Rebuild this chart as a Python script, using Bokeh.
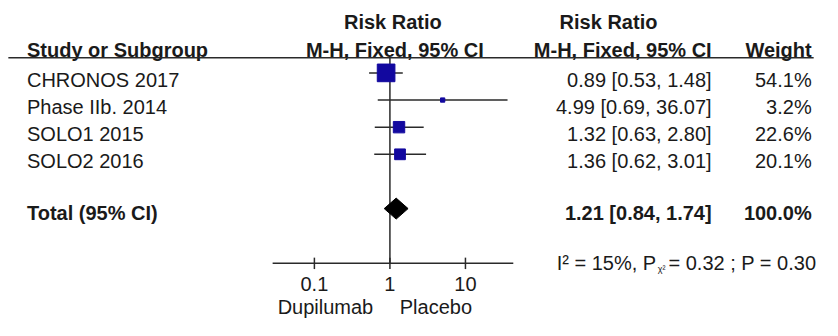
import math
from bokeh.plotting import figure
from bokeh.models import Range1d, LogScale, ColumnDataSource
from bokeh.embed import file_html
from bokeh.resources import INLINE
from bokeh.core.properties import value

# ---------------- data ----------------
studies = ["CHRONOS 2017", "Phase IIb. 2014", "SOLO1 2015", "SOLO2 2016"]
rr = [0.89, 4.99, 1.32, 1.36]
ci_lo = [0.53, 0.69, 0.63, 0.62]
ci_hi = [1.48, 36.07, 2.80, 3.01]
weights = [54.1, 3.2, 22.6, 20.1]

total_label = "Total (95% CI)"
total_rr = 1.21
total_lo = 0.84
total_hi = 1.74
total_weight = 100.0

i2_text = "I² = 15%, P"
chi_sub = "χ²"
p_text = "= 0.32 ; P = 0.30"

null_value = 1.0
tick_values = [0.1, 1, 10]
tick_labels = ["0.1", "1", "10"]
axis_limits = [0.028, 43.0]
favours_left = "Dupilumab"
favours_right = "Placebo"

header_group = "Risk Ratio"
header_method = "M-H, Fixed, 95% CI"
header_study = "Study or Subgroup"
header_weight = "Weight"

# ---------------- layout (coordinates in reference-picture pixels) ----------------
W, H = 822, 320
REF_W, REF_H = 838, 336
FONT = value("Liberation Sans")
FS = "20px"
TXT = "#1a1a1a"
LINE = "#2a2a2a"
BLUE = "#12089f"

X_NULL = 397.0      # x of RR = 1
PX_DEC = 77.0       # pixels per decade
row_y = [76 + 28.5 * i for i in range(len(studies))]
total_y = 76 + 28.5 * 5
axis_y = 276
hdr1_y, hdr2_y, hdr_line_y = 23, 52, 60
TXT_OFF = 7

p = figure(width=W, height=H, output_backend="svg", toolbar_location=None,
           x_range=Range1d(0, REF_W), y_range=Range1d(REF_H, 0),
           min_border=0, outline_line_color=None,
           x_axis_location=None, y_axis_location=None)
p.grid.visible = False
p.background_fill_color = "white"
p.border_fill_color = "white"

lo_log = (0 - X_NULL) / PX_DEC
hi_log = (REF_W - X_NULL) / PX_DEC
p.extra_x_ranges = {"rr": Range1d(10 ** lo_log, 10 ** hi_log)}
p.extra_x_scales = {"rr": LogScale()}

def txt(x, y, t, align="left", bold=False, size=FS, range_name="default"):
    p.text(x=[x] if not isinstance(x, list) else x,
           y=[y] if not isinstance(y, list) else y,
           text=[t] if not isinstance(t, list) else t,
           text_font=FONT, text_font_size=size,
           text_font_style="bold" if bold else "normal",
           text_align=align, text_baseline="middle", text_color=TXT,
           x_range_name=range_name)

# headers
txt(400, hdr1_y, header_group, "center", True)
txt(402, hdr2_y, header_method, "center", True)
txt(570, hdr1_y, header_group, "left", True)
txt(725, hdr2_y, header_method, "right", True)
txt(27, hdr2_y, header_study, "left", True)
txt(827, hdr2_y, header_weight, "right", True)
p.segment(x0=[8], y0=[hdr_line_y], x1=[829], y1=[hdr_line_y], line_color=LINE, line_width=1.5)

# study rows
ci_text = [f"{r:.2f} [{l:.2f}, {h:.2f}]" for r, l, h in zip(rr, ci_lo, ci_hi)]
w_text = [f"{w:.1f}%" for w in weights]
ty = [y + TXT_OFF for y in row_y]
txt([27] * len(studies), ty, studies, "left")
txt([725] * len(studies), ty, ci_text, "right")
txt([827] * len(studies), ty, w_text, "right")

# total row
txt(27, total_y + 5, total_label, "left", True)
txt(725, total_y + 5, f"{total_rr:.2f} [{total_lo:.2f}, {total_hi:.2f}]", "right", True)
txt(827, total_y + 5, f"{total_weight:.1f}%", "right", True)

# heterogeneity line
txt(567, axis_y, i2_text, "left")
txt(670, axis_y + 6, chi_sub, "left", size="9px")
txt(681, axis_y, p_text, "left")

# null line
p.segment(x0=[null_value], y0=[hdr_line_y], x1=[null_value], y1=[axis_y],
          x_range_name="rr", line_color=LINE, line_width=1.5)

# CIs and boxes
src = ColumnDataSource(dict(lo=ci_lo, hi=ci_hi, rr=rr, y=row_y,
                            size=[2.4 * math.sqrt(w) for w in weights]))
p.segment(x0="lo", y0="y", x1="hi", y1="y", source=src, x_range_name="rr",
          line_color=LINE, line_width=1.5)
p.scatter(x="rr", y="y", size="size", marker="square", source=src,
          x_range_name="rr", fill_color=BLUE, line_color=BLUE)

# diamond
dh = 11
p.patch(x=[total_lo, total_rr, total_hi, total_rr],
        y=[total_y, total_y - dh, total_y, total_y + dh],
        x_range_name="rr", fill_color="black", line_color="black")

# axis
p.segment(x0=[axis_limits[0]], y0=[axis_y], x1=[axis_limits[1]], y1=[axis_y],
          x_range_name="rr", line_color=LINE, line_width=1.5)
p.segment(x0=tick_values, y0=[axis_y - 6] * 3, x1=tick_values, y1=[axis_y + 6] * 3,
          x_range_name="rr", line_color=LINE, line_width=1.5)
txt(tick_values, [298] * 3, tick_labels, "center", range_name="rr")
txt(380, 322, favours_left, "right")
txt(407, 322, favours_right, "left")

open("out.html", "w").write(file_html(p, INLINE))
